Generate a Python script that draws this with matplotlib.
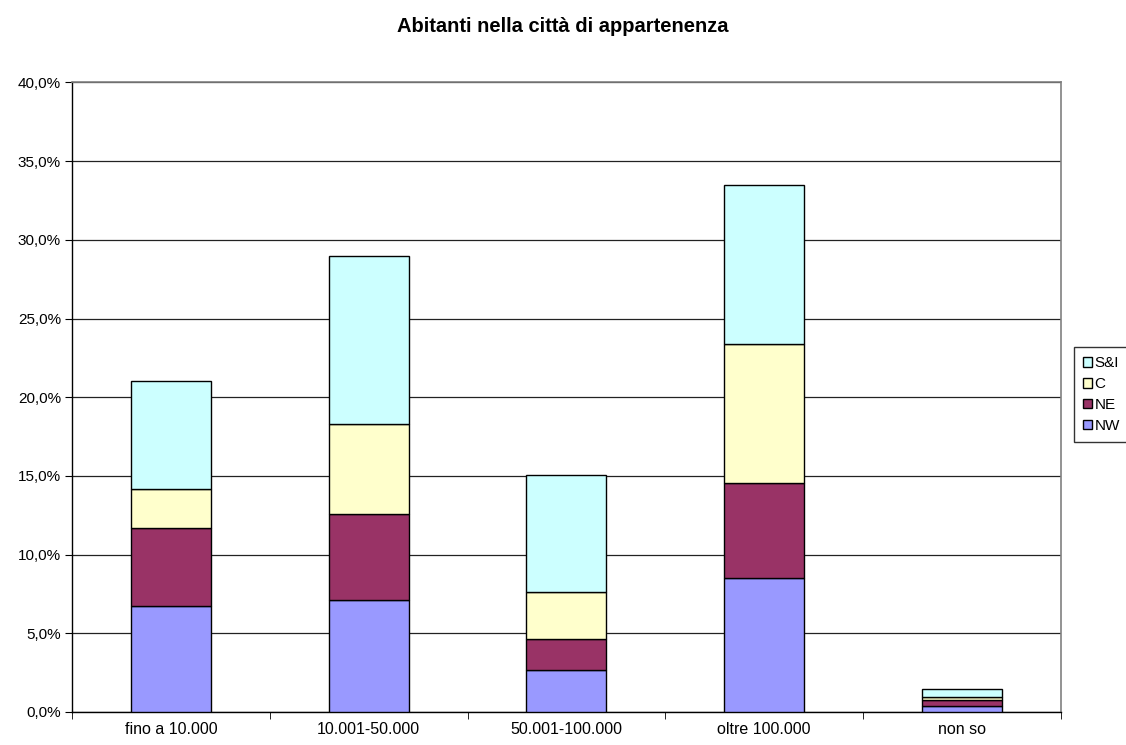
import numpy as np
import matplotlib
matplotlib.use('Agg')
import matplotlib.pyplot as plt
from matplotlib.ticker import FuncFormatter, FixedLocator

plt.rcParams['font.family'] = ['Liberation Sans', 'DejaVu Sans']

categories = ['fino a 10.000', '10.001-50.000', '50.001-100.000', 'oltre 100.000', 'non so']
series = ['NW', 'NE', 'C', 'S&I']
nw = [6.75, 7.09, 2.67, 8.53, 0.36]
ne = [4.93, 5.50, 1.95, 6.01, 0.38]
c = [2.50, 5.74, 3.02, 8.84, 0.19]
si = [6.82, 10.62, 7.39, 10.08, 0.53]
colors = ['#9999FF', '#993366', '#FFFFCC', '#CCFFFF']

fig = plt.figure(figsize=(11.26, 7.45), dpi=100)
ax = fig.add_axes([0.064, 0.0443, 0.878, 0.845])

x = np.arange(len(categories))
bottom = np.zeros(len(categories))
handles = []
for name, vals, col in zip(series, [nw, ne, c, si], colors):
    b = ax.bar(x, vals, 0.404, bottom=bottom, color=col, edgecolor='black',
               linewidth=1.0, label=name, zorder=3)
    bottom += np.array(vals)
    handles.append(b)

ax.set_xlim(-0.5, 4.5)
ax.set_ylim(0, 40)
ax.set_yticks(np.arange(0, 41, 5))
ax.yaxis.set_major_formatter(FuncFormatter(lambda v, p: ('%.1f%%' % v).replace('.', ',')))
ax.grid(axis='y', color='#222222', linewidth=0.9, zorder=0)

ax.set_xticks(x)
ax.set_xticklabels(categories)
ax.xaxis.set_minor_locator(FixedLocator(np.arange(-0.5, 4.6, 1.0)))
ax.tick_params(axis='x', which='major', length=0, pad=7, labelsize=11.5)
ax.tick_params(axis='x', which='minor', length=5, direction='out', color='black')
ax.tick_params(axis='y', length=5, direction='out', labelsize=11, pad=3)

for s in ['top', 'right']:
    ax.spines[s].set_color('#808080')
    ax.spines[s].set_linewidth(1.2)
for s in ['left', 'bottom']:
    ax.spines[s].set_color('black')
    ax.spines[s].set_linewidth(1.0)

fig.text(0.5, 0.964, 'Abitanti nella città di appartenenza', ha='center', va='center',
         fontsize=14.5, fontweight='bold')

leg = fig.legend(handles[::-1], series[::-1], loc='upper left',
                 bbox_to_anchor=(0.9538, 0.5342), fontsize=11, frameon=True,
                 fancybox=False, edgecolor='black', handlelength=0.6,
                 handleheight=0.6, handletextpad=0.15, borderpad=0.6,
                 labelspacing=0.45, borderaxespad=0)
leg.get_frame().set_linewidth(1.0)

fig.savefig('out.png', dpi=100)
